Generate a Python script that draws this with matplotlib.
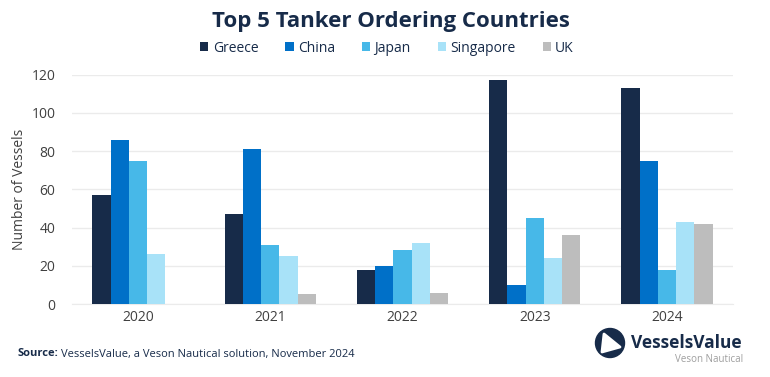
import matplotlib
matplotlib.use("Agg")
import matplotlib.pyplot as plt
import numpy as np
from matplotlib.patches import Circle, Polygon

plt.rcParams['font.family'] = ['Open Sans', 'DejaVu Sans']

years = ["2020", "2021", "2022", "2023", "2024"]
countries = ["Greece", "China", "Japan", "Singapore", "UK"]
greece = [57, 47, 18, 117, 113]
china = [86, 81, 20, 10, 75]
japan = [75, 31, 28, 45, 18]
singapore = [26, 25, 32, 24, 43]
uk = [0, 5, 6, 36, 42]
series = [greece, china, japan, singapore, uk]
colors = ["#172B49", "#0070C8", "#47B8E8", "#A8E2F8", "#BDBDBD"]

W, H = 770, 377
fig = plt.figure(figsize=(W/100, H/100), dpi=100)
ax = fig.add_axes([72/W, 1-304/H, (733-72)/W, (304-74.7)/H])

x = np.arange(len(years))
bw = 0.138
for i, (name, vals, c) in enumerate(zip(countries, series, colors)):
    ax.bar(x + (i-2)*bw, vals, width=bw, color=c, label=name, zorder=3)

ax.set_xlim(-0.5, 4.5)
ax.set_ylim(0, 120)
ax.set_yticks(range(0, 121, 20))
ax.set_xticks(x)
ax.set_xticklabels(years)
ax.grid(axis='y', color='#EBEBEB', linewidth=1, zorder=0)
for s in ['top', 'right', 'left']:
    ax.spines[s].set_visible(False)
ax.spines['bottom'].set_color('#EBEBEB')
ax.tick_params(axis='both', length=0, labelsize=10, colors='#404040')
ax.tick_params(axis='y', pad=12)
ax.tick_params(axis='x', pad=4)
ax.set_ylabel("Number of Vessels", fontsize=10, color='#404040', labelpad=3)

fig.text(391/W, 1-22/H, "Top 5 Tanker Ordering Countries", ha='center', va='center',
         fontsize=16, fontweight='bold', color='#172B49')

leg = fig.legend(loc='center', bbox_to_anchor=(387/W, 1-48/H), ncol=5, frameon=False,
                 fontsize=10, handlelength=0.6, handleheight=0.6, handletextpad=0.3,
                 columnspacing=1.95)
for t in leg.get_texts():
    t.set_color('#172B49')

t1 = fig.text(17/W, 1-354/H, "Source:", ha='left', va='center', fontsize=8, fontweight='bold', color='#172B49')
fig.canvas.draw()
bb = t1.get_window_extent()
fig.text((bb.x1 + 3)/W, 1-354/H, "VesselsValue, a Veson Nautical solution, November 2024", ha='left', va='center',
         fontsize=8, color='#172B49')

# logo
lax = fig.add_axes([0, 0, 1, 1], facecolor='none')
lax.set_xlim(0, W)
lax.set_ylim(H, 0)
lax.axis('off')
lax.add_patch(Circle((610, 343), 14.5, color='#172B49'))
lax.add_patch(Polygon([(604, 334), (620, 347), (602, 352)], closed=True, color='white', joinstyle='round', linewidth=2))
lt = lax.text(631, 343, "VesselsValue", ha='left', va='center', fontsize=16, fontweight='bold', color='#172B49')
fig.canvas.draw()
w = lt.get_window_extent().width
lt.set_fontsize(16 * 111 / w)
lax.text(743, 360, "Veson Nautical", ha='right', va='center', fontsize=7, color='#9E9E9E')

fig.savefig("out.png", dpi=100, facecolor='white')
